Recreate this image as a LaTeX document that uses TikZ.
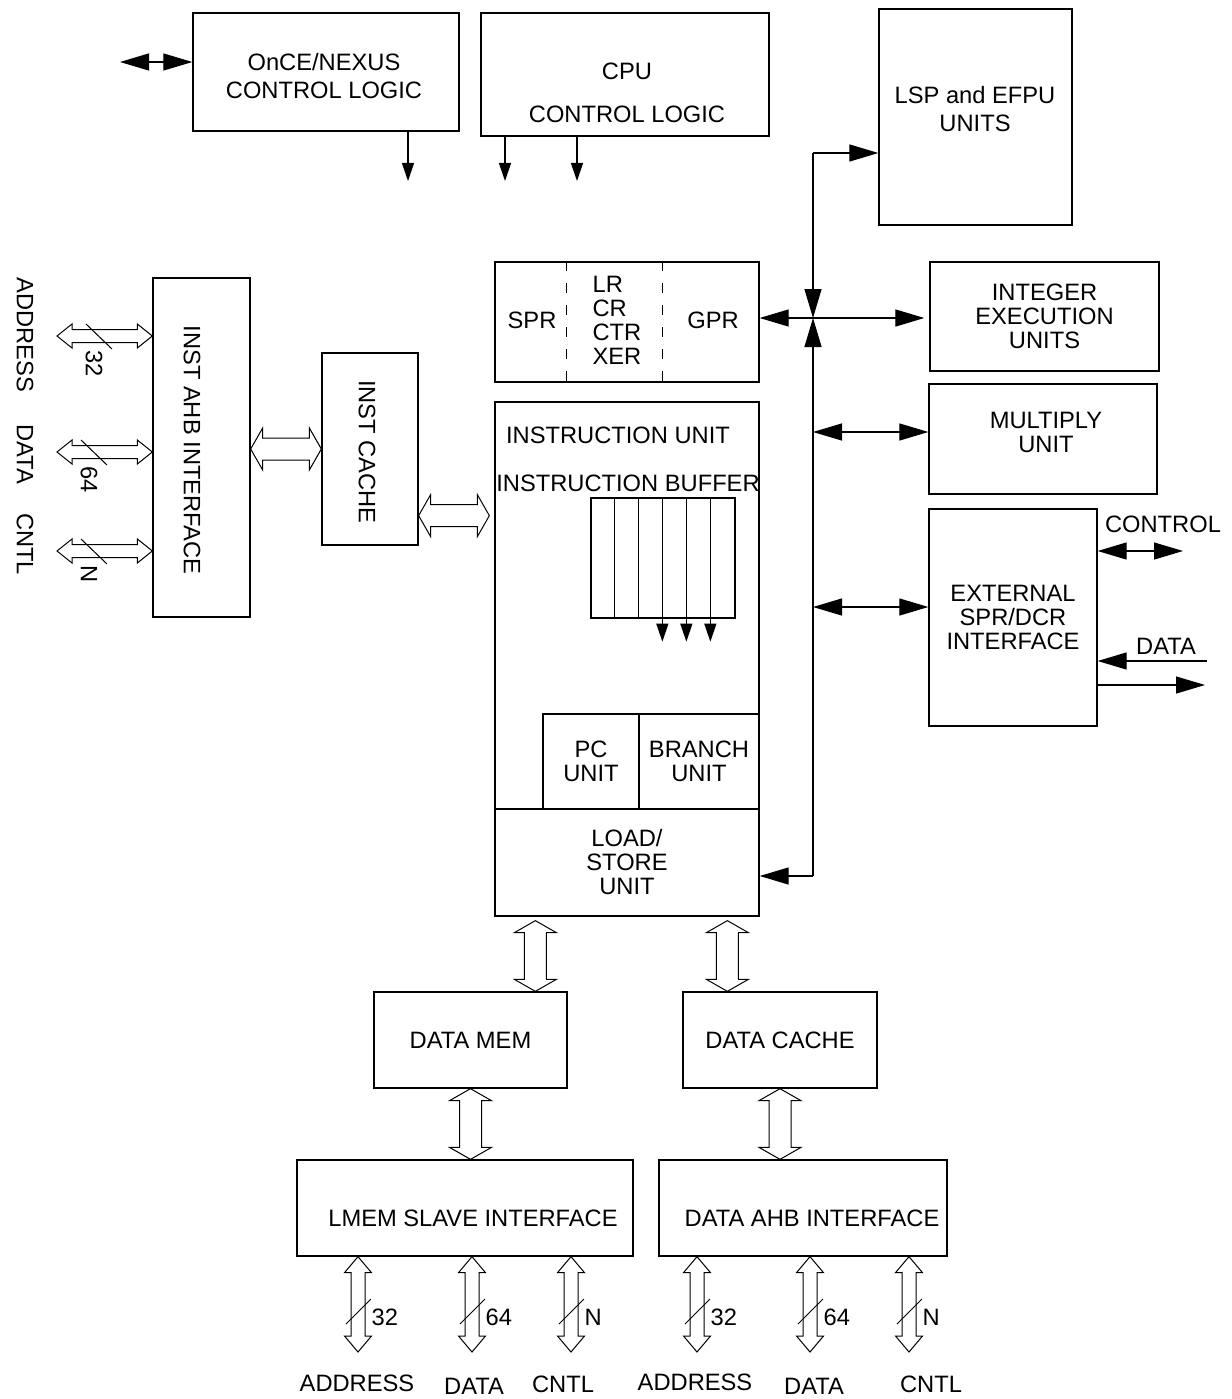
\documentclass[tikz,border=0pt]{standalone}
\usepackage{fontspec}
\setmainfont{Liberation Sans}
\usetikzlibrary{arrows.meta,calc}

\tikzset{
  box/.style={draw, line width=1.3pt, inner sep=0pt, align=center},
  txt/.style={inner sep=0pt, align=center},
  >={Triangle[length=29pt,width=17pt]},
  small tip/.style={-{Triangle[length=18pt,width=12pt]}},
  vbus/.style n args={3}{line width=1pt, to path={
    -- ([shift={(#1,#3)}]\tikztostart) -- ([shift={(#2,#3)}]\tikztostart)
    -- ([shift={(#2,-#3)}]\tikztotarget) -- ([shift={(#1,-#3)}]\tikztotarget)
    -- (\tikztotarget)
    -- ([shift={(-#1,-#3)}]\tikztotarget) -- ([shift={(-#2,-#3)}]\tikztotarget)
    -- ([shift={(-#2,#3)}]\tikztostart) -- ([shift={(-#1,#3)}]\tikztostart)
    -- cycle}},
  hbus/.style n args={3}{line width=1pt, to path={
    -- ([shift={(#3,-#1)}]\tikztostart) -- ([shift={(#3,-#2)}]\tikztostart)
    -- ([shift={(-#3,-#2)}]\tikztotarget) -- ([shift={(-#3,-#1)}]\tikztotarget)
    -- (\tikztotarget)
    -- ([shift={(-#3,#1)}]\tikztotarget) -- ([shift={(-#3,#2)}]\tikztotarget)
    -- ([shift={(#3,#2)}]\tikztostart) -- ([shift={(#3,#1)}]\tikztostart)
    -- cycle}},
  big vbus/.style={vbus={21}{11}{12}},
  big hbus/.style={hbus={21}{11}{12}},
  small vbus/.style={vbus={13.5}{7}{16}},
  small hbus/.style={hbus={12}{6.5}{15}}
}

\begin{document}
\begin{tikzpicture}[x=1pt, y=-1pt, line width=1.2pt, font=\fontsize{23.7pt}{24pt}\selectfont]
\useasboundingbox (0,0) rectangle (1231,1399);

% Control logic blocks
\node[box, minimum width=266pt, minimum height=118pt] (once) at (326,72) {};
\node[txt] (once_txt) at (324,76) {OnCE/NEXUS\\[4pt]CONTROL LOGIC};
\node[box, minimum width=288pt, minimum height=123pt] (cpu) at (625,74.5) {};
\node[txt] (cpu_txt) at (627,93) {CPU\\[19pt]CONTROL LOGIC};

\coordinate (once_in) at (120,62);
\draw[<->] (once_in) -- (once_in -| once.west);
\coordinate (once_out) at (408,181);
\coordinate (cpu_out1) at (505,181);
\coordinate (cpu_out2) at (577,181);
\draw[small tip] (once_out |- once.south) -- (once_out);
\draw[small tip] (cpu_out1 |- cpu.south) -- (cpu_out1);
\draw[small tip] (cpu_out2 |- cpu.south) -- (cpu_out2);

% Execution units
\node[box, minimum width=193pt, minimum height=216pt] (lsp) at (975.5,117) {};
\node[txt] (lsp_txt) at (975,109) {LSP and EFPU\\[4pt]UNITS};
\node[box, minimum width=229pt, minimum height=109pt] (int_eu) at (1044.5,316.5) {INTEGER\\EXECUTION\\UNITS};
\node[box, minimum width=228pt, minimum height=110pt] (mul) at (1043,439) {};
\node[txt] (mul_txt) at (1046,432) {MULTIPLY\\UNIT};
\node[box, minimum width=168pt, minimum height=217pt] (ext) at (1013,617.5) {EXTERNAL\\SPR/DCR\\INTERFACE};
\node[txt] (ctl_txt) at (1163,524) {CONTROL};
\node[txt] (dat_txt) at (1166,646) {DATA};

\coordinate (ctl_end) at (1183,551);
\coordinate (dat_in) at (1207,661);
\coordinate (dat_out) at (1205,685);
\draw[<->] (ctl_end -| ext.east) -- (ctl_end);
\draw[->] (dat_in) -- (dat_in -| ext.east);
\draw[->] (dat_out -| ext.east) -- (dat_out);

% Register file
\node[box, minimum width=264pt, minimum height=120pt] (regs) at (627,322) {};
\draw[dash pattern=on 10pt off 12pt] ($(regs.north west)+(72,0)$) -- ($(regs.south west)+(72,0)$);
\draw[dash pattern=on 10pt off 12pt] ($(regs.north west)+(168,0)$) -- ($(regs.south west)+(168,0)$);
\node[txt] (spr) at (532,320) {SPR};
\node[txt, align=left, anchor=west] (lr_ctr) at (592,320) {LR\\CR\\CTR\\XER};
\node[txt] (gpr) at (713,320) {GPR};

% Instruction unit
\node[box, minimum width=264pt, minimum height=514pt] (iu) at (627,659) {};
\node[txt] (iu_txt) at (618,435) {INSTRUCTION UNIT};
\node[txt] (ibuf_txt) at (628,483) {INSTRUCTION BUFFER};
\node[box, minimum width=144pt, minimum height=120pt] (ibuf) at (663,558) {};
\foreach \i in {1,2}
  \draw ($(ibuf.north west)+(24*\i,0)$) -- ($(ibuf.south west)+(24*\i,0)$);
\foreach \i in {3,4,5}
  \draw[small tip] ($(ibuf.north west)+(24*\i,0)$) -- ($(ibuf.south west)+(24*\i,23)$);
\node[box, minimum width=96pt, minimum height=95pt] (pc) at (591,761.5) {PC\\UNIT};
\node[box, minimum width=120pt, minimum height=95pt] (br) at (699,761.5) {BRANCH\\UNIT};
\node[box, minimum width=264pt, minimum height=107pt] (ls) at (627,862.5) {LOAD/\\STORE\\UNIT};

% Internal bus
\coordinate (bus_top) at (813,153);
\coordinate (bus_x) at (813,318);
\coordinate (bus_mul) at (813,432);
\coordinate (bus_ext) at (813,607);
\coordinate (bus_bot) at (813,876);
\draw[->] (bus_top) -- (bus_top -| lsp.west);
\draw[->] (bus_top) -- (bus_x);
\draw[->] (bus_bot) -- (bus_x);
\draw[<->, shorten >=5pt] (regs.east |- bus_x) -- (int_eu.west |- bus_x);
\draw[<->] (bus_mul) -- (bus_mul -| mul.west);
\draw[<->] (bus_ext) -- (bus_ext -| ext.west);
\draw[->] (bus_bot) -- (bus_bot -| ls.east);

% Instruction side
\node[box, minimum width=97pt, minimum height=339pt] (ahb_if) at (201.5,447.5) {};
\node[txt, rotate=-90] (ahb_txt) at (192,450) {INST AHB INTERFACE};
\node[box, minimum width=96pt, minimum height=192pt] (icache) at (370,449) {};
\node[txt, rotate=-90] (icache_txt) at (367,452) {INST CACHE};

\coordinate (ic_l) at (ahb_if.east |- icache.west);
\draw[big hbus] (ic_l) to (icache.west);
\coordinate (ic_r) at ($(icache.south east)+(0,-30)$);
\coordinate (iu_in) at ($(iu.west |- ic_r)+(-5,0)$);
\draw[big hbus] (ic_r) to (iu_in);

\foreach \by/\bw/\sx/\name [count=\k] in {336/32/99/ADDRESS, 452/64/94/DATA, 551/N/94/CNTL} {
  \coordinate (ahb_bus\k) at (57,\by);
  \coordinate (ahb_pin\k) at (ahb_if.west |- ahb_bus\k);
  \draw[small hbus] (ahb_bus\k) to (ahb_pin\k);
  \draw[line width=1pt] (\sx-13,\by-12) -- (\sx+13,\by+13);
  \node[txt, rotate=-90, anchor=west] (ahb_w\k) at (\sx-5,\by+14) {\bw};
}
\node[txt, rotate=-90] (ahb_addr) at (25,335) {ADDRESS};
\node[txt, rotate=-90] (ahb_data) at (25,454) {DATA};
\node[txt, rotate=-90] (ahb_cntl) at (25,544) {CNTL};

% Data side
\node[box, minimum width=193pt, minimum height=96pt] (dmem) at (470.5,1040) {DATA MEM};
\node[box, minimum width=194pt, minimum height=96pt] (dcache) at (780,1040) {DATA CACHE};
\node[box, minimum width=336pt, minimum height=96pt] (lmem) at (465,1208) {};
\node[txt] (lmem_txt) at (473,1218) {LMEM SLAVE INTERFACE};
\node[box, minimum width=288pt, minimum height=96pt] (dahb) at (803,1208) {};
\node[txt] (dahb_txt) at (812,1218) {DATA AHB INTERFACE};

\coordinate (iu_dm) at ($(iu.south west)+(41,4)$);
\coordinate (dm_top) at (iu_dm |- dmem.north);
\draw[big vbus] (iu_dm) to (dm_top);
\coordinate (iu_dc) at ($(iu.south west)+(233,4)$);
\coordinate (dc_top) at (iu_dc |- dcache.north);
\draw[big vbus] (iu_dc) to (dc_top);
\coordinate (dm_bot) at (dmem.south);
\coordinate (lm_top) at (dm_bot |- lmem.north);
\draw[big vbus] (dm_bot) to (lm_top);
\coordinate (dc_bot) at (dcache.south);
\coordinate (da_top) at (dc_bot |- dahb.north);
\draw[big vbus] (dc_bot) to (da_top);

\foreach \bx/\bw [count=\k] in {358/32, 472/64, 571/N, 697/32, 810/64, 909/N} {
  \coordinate (ext_bus\k) at (\bx,1352);
  \coordinate (ext_pin\k) at (ext_bus\k |- lmem.south);
  \draw[small vbus] (ext_pin\k) to (ext_bus\k);
  \draw[line width=1pt] (\bx-12,1324) -- (\bx+13,1299);
  \node[txt, anchor=west] (ext_w\k) at (\bx+13,1317) {\bw};
}
\foreach \lx/\ly/\name [count=\k] in {357/1383/ADDRESS, 474/1386/DATA, 563/1384/CNTL,
    695/1382/ADDRESS, 814/1386/DATA, 931/1384/CNTL}
  \node[txt] (ext_lbl\k) at (\lx,\ly) {\name};

\end{tikzpicture}
\end{document}
